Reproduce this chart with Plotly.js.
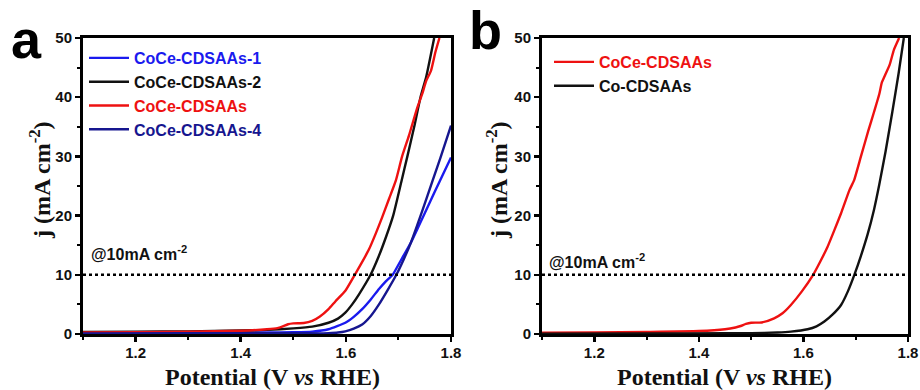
<!DOCTYPE html>
<html>
<head>
<meta charset="utf-8">
<script src="https://cdn.plot.ly/plotly-3.0.1.min.js"></script>
<style>html,body{margin:0;padding:0;background:#fff;}#chart{width:920px;height:390px;}</style>
</head>
<body>
<div id="chart"></div>
<script>
// ---- Panel a data ----
const aRedX = [1.10,1.20,1.30,1.40,1.45,1.47,1.48,1.49,1.50,1.52,1.536,1.55,1.567,1.58,1.599,1.617,1.63,1.644,1.657,1.669,1.682,1.695,1.707,1.72,1.735,1.745,1.753,1.762,1.770,1.778];
const aRedY = [0.25,0.30,0.40,0.55,0.80,1.00,1.30,1.65,1.80,1.85,2.20,2.90,4.20,5.50,7.30,10.0,12.0,14.3,17.0,19.7,22.8,25.9,30.0,33.5,38.0,40.5,42.8,44.5,47.5,50.0];

const aBlackX = [1.10,1.20,1.30,1.40,1.45,1.50,1.536,1.567,1.585,1.599,1.612,1.625,1.647,1.662,1.676,1.690,1.706,1.717,1.730,1.742,1.753,1.768];
const aBlackY = [0.35,0.40,0.45,0.60,0.70,0.95,1.24,1.90,2.60,3.60,5.00,6.70,10.0,13.0,16.3,20.0,25.9,30.0,35.0,40.0,43.5,50.0];

const aBlue1X = [1.10,1.30,1.45,1.50,1.536,1.567,1.599,1.615,1.631,1.647,1.663,1.676,1.689,1.705,1.724,1.740,1.760,1.779,1.800];
const aBlue1Y = [0.15,0.20,0.25,0.30,0.40,0.80,1.90,2.90,4.20,5.80,7.60,8.90,10.0,12.5,15.5,18.5,22.3,25.9,29.8];

const aNavyX = [1.10,1.30,1.50,1.55,1.567,1.585,1.599,1.615,1.631,1.647,1.663,1.680,1.696,1.710,1.724,1.745,1.765,1.780,1.800];
const aNavyY = [0.10,0.12,0.14,0.10,0.15,0.25,0.45,0.90,1.60,3.00,5.00,7.50,10.0,12.6,15.5,20.7,25.9,29.8,35.2];

// ---- Panel b data ----
const bRedX = [1.10,1.20,1.30,1.40,1.45,1.47,1.48,1.49,1.50,1.52,1.544,1.56,1.576,1.597,1.618,1.632,1.646,1.659,1.672,1.688,1.697,1.710,1.724,1.735,1.745,1.750,1.755,1.765,1.773,1.783];
const bRedY = [0.20,0.25,0.35,0.50,0.80,1.10,1.35,1.70,1.90,1.95,2.65,3.50,4.90,7.20,9.90,12.2,14.7,17.5,20.4,24.3,26.0,30.0,34.3,37.5,40.5,42.5,43.5,45.5,48.0,50.0];

const bBlackX = [1.10,1.30,1.45,1.50,1.55,1.576,1.608,1.625,1.640,1.656,1.672,1.685,1.697,1.710,1.723,1.735,1.745,1.757,1.770,1.782,1.792];
const bBlackY = [0.05,0.08,0.12,0.15,0.25,0.40,0.80,1.30,2.10,3.30,4.90,7.20,9.90,13.2,16.9,21.0,25.2,30.8,37.5,44.0,50.0];

// reference level and labels
const refLevel = 10;
const xRange = [1.1, 1.8];
const yRange = [0, 50];
const namesA = ['CoCe-CDSAAs-1','CoCe-CDSAAs-2','CoCe-CDSAAs','CoCe-CDSAAs-4'];
const colorsA = ['#1a1aee','#111111','#ee1111','#16168f'];
const namesB = ['CoCe-CDSAAs','Co-CDSAAs'];
const colorsB = ['#ee1111','#111111'];

const lw = 2.4;
function tr(x, y, name, color, xa, ya, leg) {
  return {x: x, y: y, type: 'scatter', mode: 'lines', name: '<span style="color:' + color + '">' + name + '</span>',
    line: {color: color, width: lw, shape: 'spline', smoothing: 0.5}, xaxis: xa, yaxis: ya, legend: leg};
}
const data = [
  tr(aBlue1X, aBlue1Y, namesA[0], colorsA[0], 'x', 'y', 'legend'),
  tr(aBlackX, aBlackY, namesA[1], colorsA[1], 'x', 'y', 'legend'),
  tr(aRedX, aRedY, namesA[2], colorsA[2], 'x', 'y', 'legend'),
  tr(aNavyX, aNavyY, namesA[3], colorsA[3], 'x', 'y', 'legend'),
  tr(bRedX, bRedY, namesB[0], colorsB[0], 'x2', 'y2', 'legend2'),
  tr(bBlackX, bBlackY, namesB[1], colorsB[1], 'x2', 'y2', 'legend2'),
  {x: xRange, y: [refLevel, refLevel], type: 'scatter', mode: 'lines', showlegend: false,
   line: {color: '#000', width: 2.6, dash: 'dot'}, xaxis: 'x', yaxis: 'y'},
  {x: xRange, y: [refLevel, refLevel], type: 'scatter', mode: 'lines', showlegend: false,
   line: {color: '#000', width: 2.6, dash: 'dot'}, xaxis: 'x2', yaxis: 'y2'}
];

const W = 920, H = 390;
const tickFont = {family: 'Arial, "Liberation Sans", sans-serif', size: 15, color: '#111', weight: 'bold'};
function xax(l, r) {
  return {domain: [l / W, r / W], range: xRange, tick0: 1.2, dtick: 0.2, tickformat: '.1f',
    showline: true, linewidth: 3, linecolor: '#000', mirror: true, showgrid: false, zeroline: false,
    ticks: 'outside', ticklen: 5, tickwidth: 2.5, tickcolor: '#000', tickfont: tickFont, ticklabelstandoff: -2,
    minor: {dtick: 0.1, tick0: 1.1, ticks: 'outside', ticklen: 3, tickwidth: 2, tickcolor: '#000'}};
}
function yax(xname) {
  return {domain: [(H - 334) / H, (H - 38) / H], range: yRange, dtick: 10, anchor: xname,
    showline: true, linewidth: 3, linecolor: '#000', mirror: true, showgrid: false, zeroline: false,
    ticks: 'outside', ticklen: 5, tickwidth: 2.5, tickcolor: '#000', tickfont: tickFont,
    minor: {dtick: 5, ticks: 'outside', ticklen: 3, tickwidth: 2, tickcolor: '#000'}};
}
const titleFont = {family: '"Times New Roman", "Liberation Serif", serif', size: 24, color: '#111', weight: 'bold'};
const labFont = {family: 'Arial, "Liberation Sans", sans-serif', size: 16, color: '#111', weight: 'bold'};
const letterFont = {family: 'Arial, "Liberation Sans", sans-serif', size: 54, color: '#000', weight: 'bold'};
function ann(x, y, text, font, extra) {
  return Object.assign({xref: 'paper', yref: 'paper', x: x / W, y: 1 - y / H, text: text, font: font,
    showarrow: false, xanchor: 'center', yanchor: 'middle'}, extra || {});
}
const layout = {
  width: W, height: H, margin: {l: 0, r: 0, t: 0, b: 0},
  paper_bgcolor: '#fff', plot_bgcolor: '#fff',
  xaxis: Object.assign(xax(83, 451), {anchor: 'y'}),
  yaxis: yax('x'),
  xaxis2: Object.assign(xax(542, 908), {anchor: 'y2'}),
  yaxis2: yax('x2'),
  legend: {x: 84 / W, y: 1 - 41 / H, xanchor: 'left', yanchor: 'top', bgcolor: 'rgba(0,0,0,0)',
    font: labFont, itemwidth: 40, tracegroupgap: 0},
  legend2: {x: 549 / W, y: 1 - 45 / H, xanchor: 'left', yanchor: 'top', bgcolor: 'rgba(0,0,0,0)',
    font: labFont, itemwidth: 40, tracegroupgap: 0},
  annotations: [
    ann(272, 377, 'Potential (V <i>vs</i> RHE)', titleFont),
    ann(724, 377, 'Potential (V <i>vs</i> RHE)', titleFont),
    ann(40, 180, 'j (mA cm<sup>-2</sup>)', titleFont, {textangle: -90}),
    ann(497, 180, 'j (mA cm<sup>-2</sup>)', titleFont, {textangle: -90}),
    ann(89, 253, '@10mA cm<sup>-2</sup>', labFont, {xanchor: 'left'}),
    ann(547, 261, '@10mA cm<sup>-2</sup>', labFont, {xanchor: 'left'}),
    ann(26, 39, 'a', letterFont),
    ann(486, 30, 'b', letterFont)
  ],
  showlegend: true
};
Plotly.newPlot('chart', data, layout, {displayModeBar: false, staticPlot: true});
</script>
</body>
</html>
